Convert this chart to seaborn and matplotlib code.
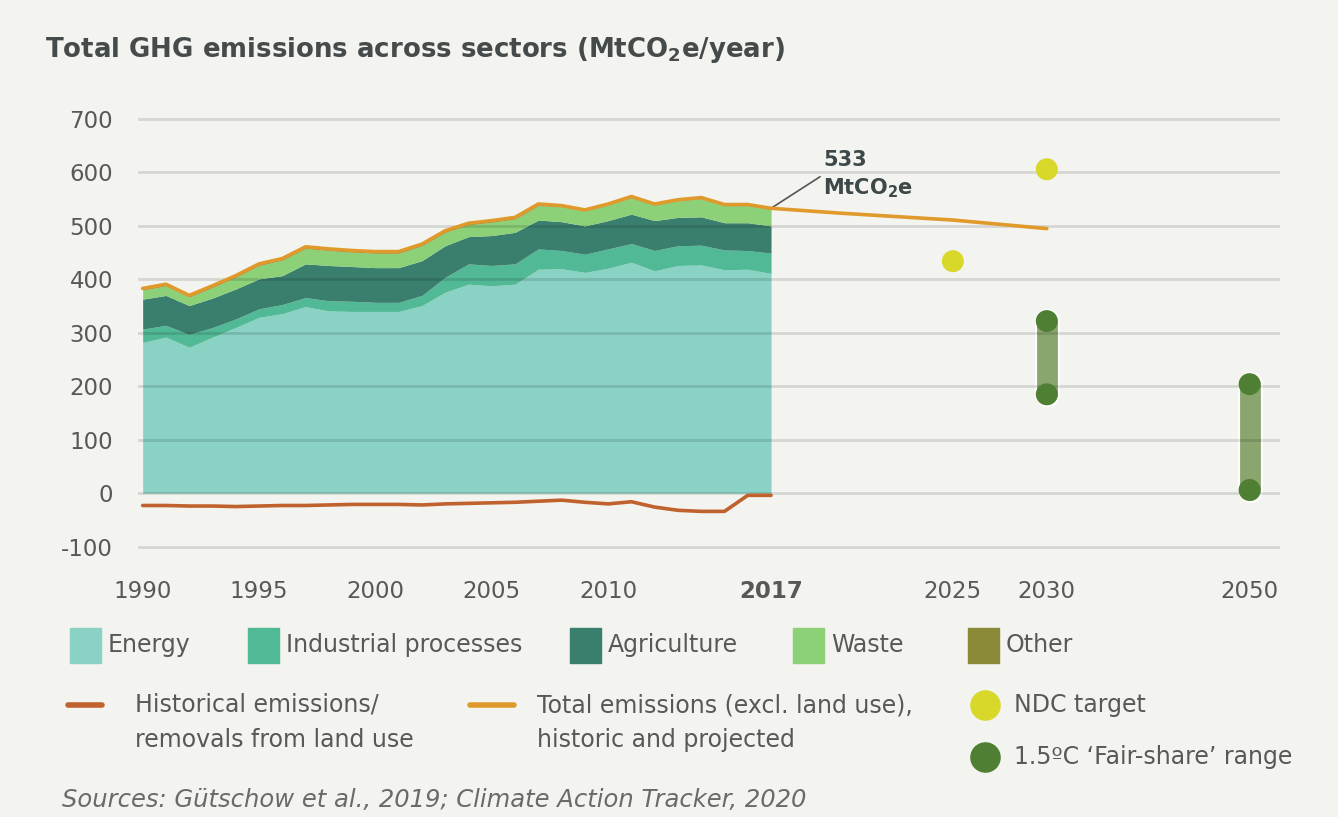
import numpy as np
import pandas as pd
import matplotlib
matplotlib.use("Agg")
import matplotlib.pyplot as plt
import matplotlib.patheffects as pe
import matplotlib.transforms as mtransforms
from matplotlib.patches import Rectangle
from matplotlib.lines import Line2D
import seaborn as sns

# ---- data ----
years = list(range(1990, 2018))
energy = [282, 292, 273, 292, 310, 329, 336, 349, 341, 340, 340, 340, 351, 376,
          391, 388, 391, 419, 420, 413, 421, 432, 416, 426, 427, 418, 419, 411]
industrial = [25, 22, 24, 18, 16, 16, 17, 17, 19, 19, 17, 17, 19, 28,
              38, 38, 38, 38, 34, 34, 36, 35, 38, 37, 37, 37, 35, 38]
agriculture = [56, 56, 54, 55, 56, 56, 54, 63, 66, 65, 65, 65, 65, 59,
               51, 56, 59, 54, 54, 53, 53, 55, 56, 53, 53, 51, 52, 51]
waste = [17, 18, 16, 20, 22, 25, 29, 29, 28, 27, 27, 27, 28, 25,
         22, 25, 25, 27, 28, 28, 29, 31, 29, 31, 34, 32, 32, 31]
other = [3, 3, 3, 3, 3, 3, 3, 3, 3, 3, 3, 3, 3, 3,
         3, 3, 3, 3, 2, 2, 2, 2, 2, 2, 2, 2, 2, 2]
land_use = [-23, -23, -24, -24, -25, -24, -23, -23, -22, -21, -21, -21, -22, -20,
            -19, -18, -17, -15, -13, -17, -20, -16, -26, -32, -34, -34, -4, -4]

proj_years = [2017, 2020, 2025, 2030]
proj_total = [533, 524, 511, 495]

ndc_years = [2025, 2030]
ndc_values = [434, 606]

fair_years = [2030, 2050]
fair_low = [185, 6]
fair_high = [322, 204]

xtick_years = [1990, 1995, 2000, 2005, 2010, 2017, 2025, 2030, 2050]
sectors = ["Energy", "Industrial processes", "Agriculture", "Waste", "Other"]

# ---- style ----
BG = "#f3f3ef"
sector_colors = ["#8ad2c4", "#52b996", "#3a7f6e", "#8cd078", "#8a8a38"]
ORANGE = "#e09a2c"
BROWN = "#c0622e"
YELLOW = "#d8d82a"
DOT_GREEN = "#4f7f33"
BAR_GREEN = "#8aa56e"
TXT = "#585858"

sns.set_theme(style="white")
plt.rcParams["font.family"] = ["DejaVu Sans"]
plt.rcParams["mathtext.default"] = "regular"
plt.rcParams["axes.unicode_minus"] = False

fig = plt.figure(figsize=(13.38, 8.17), dpi=100, facecolor=BG)
ax = fig.add_axes([138 / 1338, 1 - 552 / 817, (1280 - 138) / 1338, (552 - 112.6) / 817])
ax.set_facecolor(BG)

# piecewise x axis: the projection years are squeezed after 2030
brk_years = [1980, 1990, 2017, 2025, 2030, 2050, 2070]
brk_pos = [-91, 142, 771, 953, 1047, 1250, 1453]
ax.set_xscale("function", functions=(lambda x: np.interp(x, brk_years, brk_pos),
                                     lambda p: np.interp(p, brk_pos, brk_years)))

ax.stackplot(years, energy, industrial, agriculture, waste, other,
             colors=sector_colors, linewidth=0, zorder=1)

hist_total = list(np.sum([energy, industrial, agriculture, waste, other], axis=0))
tot = pd.DataFrame({"year": years + proj_years[1:], "total": hist_total + proj_total[1:]})
sns.lineplot(data=tot, x="year", y="total", color=ORANGE, lw=2.6, ax=ax, zorder=4)
sns.lineplot(x=years, y=land_use, color=BROWN, lw=2.6, ax=ax, zorder=4)

for yr, lo, hi in zip(fair_years, fair_low, fair_high):
    ax.plot([yr, yr], [lo, hi], lw=15, color=BAR_GREEN, solid_capstyle="round", zorder=2,
            path_effects=[pe.Stroke(linewidth=18, foreground="white"), pe.Normal()])
sns.scatterplot(x=fair_years + fair_years, y=fair_low + fair_high, color=DOT_GREEN,
                s=250, edgecolor="none", ax=ax, zorder=5)
sns.scatterplot(x=ndc_years, y=ndc_values, color=YELLOW, s=250, edgecolor="none",
                ax=ax, zorder=5)

ax.annotate("533\nMtCO$_2$e", xy=(2017, proj_total[0]), xytext=(2019.3, 596),
            fontsize=15, fontweight="bold", color="#3d4848", ha="left", va="center",
            linespacing=1.35,
            arrowprops=dict(arrowstyle="-", color="#555555", lw=1.2, shrinkA=0,
                            shrinkB=0, relpos=(0, 0.5)))

ax.set_ylim(-110, 712)
ax.set_xlim(1989.8, 2053)
ax.set_yticks(range(-100, 701, 100))
ax.set_xticks(xtick_years)
ax.set_xticklabels([str(y) for y in xtick_years])
for lab in ax.get_xticklabels():
    if lab.get_text() == "2017":
        lab.set_fontweight("bold")
        lab.set_color("#333333")
    if lab.get_text() == "1990":
        lab.set_transform(lab.get_transform() +
                          mtransforms.ScaledTranslation(0.16, 0, fig.dpi_scale_trans))
ax.tick_params(axis="both", length=0, labelsize=16.5, labelcolor=TXT)
ax.tick_params(axis="x", pad=20)
ax.tick_params(axis="y", pad=18)
ax.yaxis.grid(True, color="black", alpha=0.12, lw=2.0)
ax.xaxis.grid(False)
ax.set_axisbelow(False)
ax.set_xlabel("")
ax.set_ylabel("")
sns.despine(ax=ax, left=True, bottom=True)

# ---- title / legend / source ----
def fx(px):
    return px / 1338


def fy(py):
    return 1 - py / 817


fig.text(fx(45), fy(50), "Total GHG emissions across sectors (MtCO$_2$e/year)",
         fontsize=18.7, fontweight="bold", color="#454b4b", va="center")

LEG = 17
patch_x = [70, 248, 570, 793, 968]
for x0, name, col in zip(patch_x, sectors, sector_colors):
    fig.add_artist(Rectangle((fx(x0), fy(663)), 31 / 1338, 35 / 817,
                             transform=fig.transFigure, color=col))
    fig.text(fx(x0 + 38), fy(645), name, fontsize=LEG, color=TXT, va="center")

fig.add_artist(Line2D([fx(68), fx(102)], [fy(705), fy(705)], lw=4, color=BROWN))
fig.text(fx(135), fy(705), "Historical emissions/", fontsize=LEG, color=TXT, va="center")
fig.text(fx(135), fy(740), "removals from land use", fontsize=LEG, color=TXT, va="center")
fig.add_artist(Line2D([fx(470), fx(514)], [fy(705), fy(705)], lw=4, color=ORANGE))
fig.text(fx(537), fy(705), "Total emissions (excl. land use),", fontsize=LEG, color=TXT,
         va="center")
fig.text(fx(537), fy(740), "historic and projected", fontsize=LEG, color=TXT, va="center")
fig.add_artist(Line2D([fx(985)], [fy(705)], marker="o", ms=21, color=YELLOW, ls="none"))
fig.text(fx(1014), fy(705), "NDC target", fontsize=LEG, color=TXT, va="center")
fig.add_artist(Line2D([fx(985)], [fy(757)], marker="o", ms=21, color=DOT_GREEN, ls="none"))
fig.text(fx(1014), fy(757), "1.5ºC ‘Fair-share’ range", fontsize=LEG, color=TXT, va="center")

fig.text(fx(62), fy(800), "Sources: Gütschow et al., 2019; Climate Action Tracker, 2020",
         fontsize=17.5, style="italic", color="#6a6a6a", va="center")

fig.savefig("out.png", dpi=100, facecolor=BG)
